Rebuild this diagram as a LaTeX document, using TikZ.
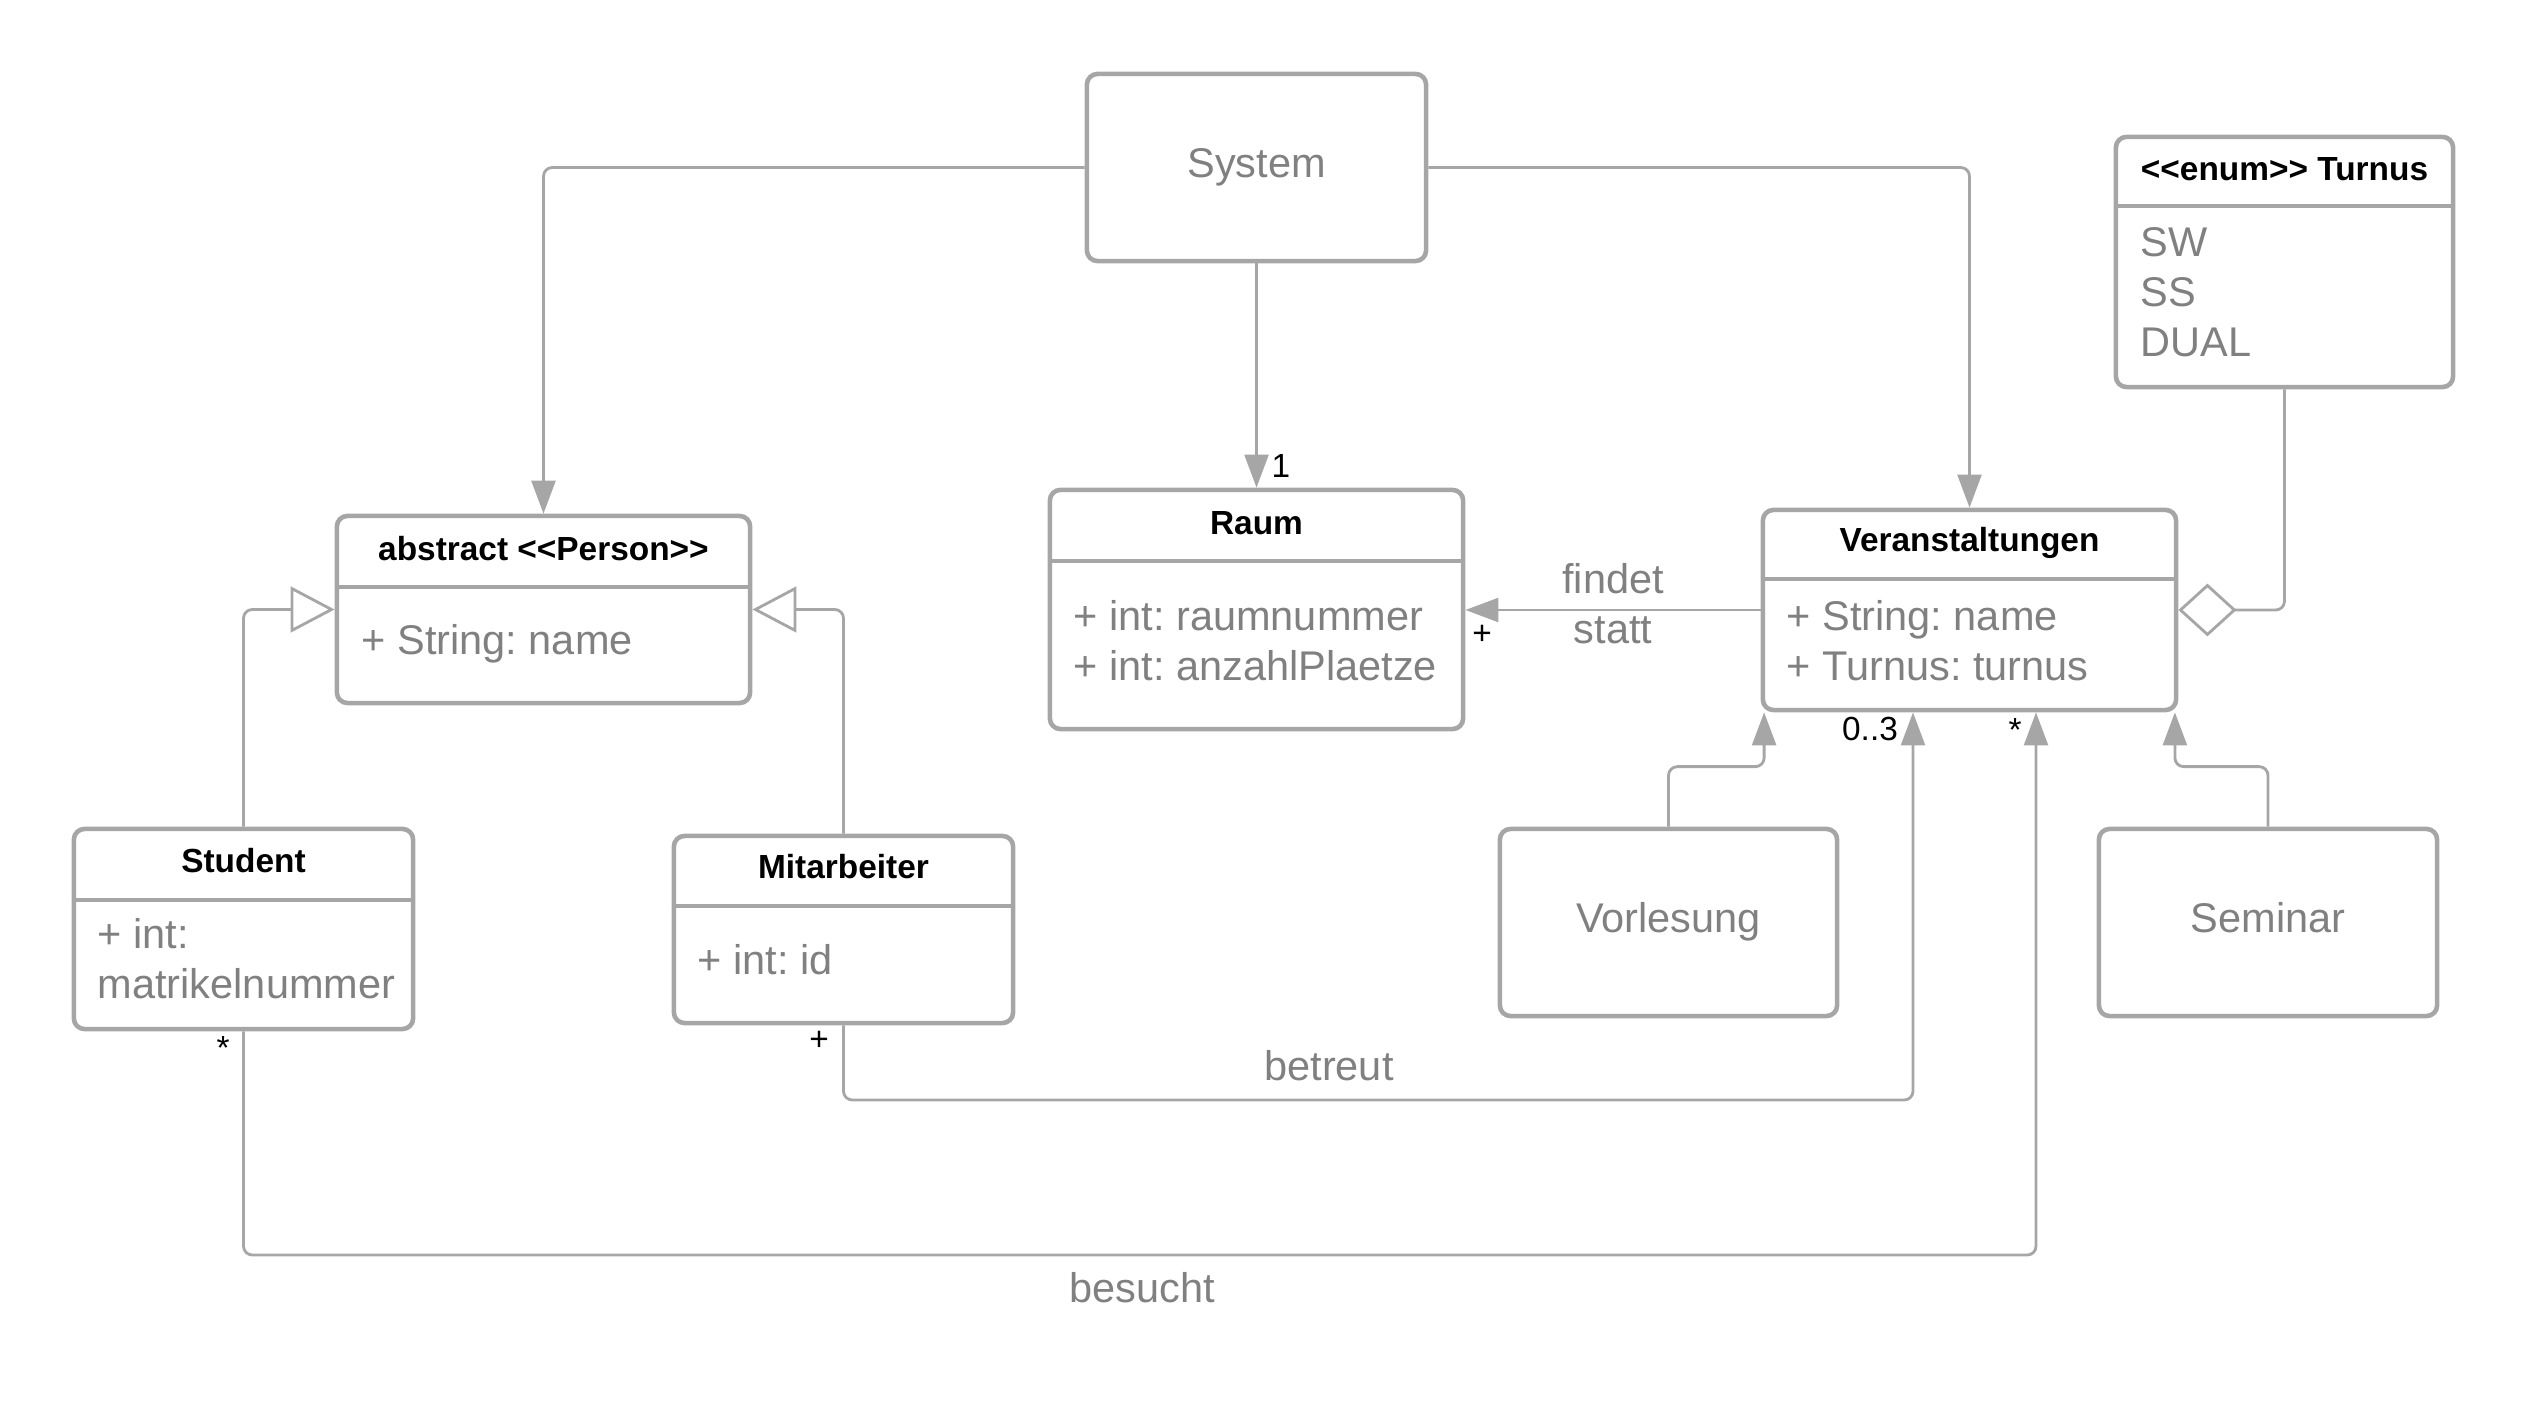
\documentclass[tikz,border=0pt]{standalone}
\usepackage{fontspec}
\setmainfont{Liberation Sans}
\usetikzlibrary{arrows.meta}
\definecolor{linegray}{RGB}{166,166,166}
\definecolor{textgray}{RGB}{128,128,128}
\newcommand\bodyfont{\fontsize{11.8}{14.2}\selectfont}
\newcommand\titlefont{\fontsize{9.5}{11.4}\selectfont}
\frenchspacing

\begin{document}
\begin{tikzpicture}[x=0.01cm, y=-0.01cm,
    classbox/.style={draw=linegray, line width=1.3pt, rounded corners=3pt, fill=white},
    simplebox/.style={classbox, text=textgray, font=\bodyfont, text depth=2.8pt},
    divider/.style={draw=linegray, line width=1.3pt},
    % text inside the class boxes
    classtitle/.style={anchor=base, inner sep=0pt, font=\titlefont\bfseries, text=black},
    attr/.style={anchor=base west, inner sep=0pt, font=\bodyfont, text=textgray},
    plain/.style={anchor=base, inner sep=0pt, font=\bodyfont, text=textgray},
    mult/.style={anchor=base, inner sep=0pt, font=\titlefont, text=black},
    % connectors
    conn/.style={draw=linegray, line width=0.8pt, rounded corners=2.5pt},
    assoc/.style={conn, -{Triangle[length=9.4pt, width=6.8pt]}},
    inherit/.style={conn, -{Triangle[open, length=12.5pt, width=13pt]}},
    aggr/.style={conn, -{Diamond[open, length=16.5pt, width=15pt]}}
    ]
\useasboundingbox (0,0) rectangle (2529,1425);

%% Plain boxes
\node[simplebox, minimum width=3.39cm, minimum height=1.87cm] (system) at (1256.5,167.5) {System};
\node[simplebox, minimum width=3.37cm, minimum height=1.87cm] (vorlesung) at (1668.5,922.5) {Vorlesung};
\node[simplebox, minimum width=3.38cm, minimum height=1.87cm] (seminar) at (2268,922.5) {Seminar};

%% abstract Person
\node[classbox, minimum width=4.13cm, minimum height=1.87cm] (person) at (543.5,609.5) {};
\draw[divider] (person.west |- 0,587) -- (person.east |- 0,587);
\node[classtitle] (persontitle) at (543.5,561) {abstract <{}<Person>{}>};
\node[attr] (personname) at (361,655) {+ String: name};

%% Raum
\node[classbox, minimum width=4.13cm, minimum height=2.39cm] (raum) at (1256.5,609.5) {};
\draw[divider] (raum.west |- 0,561) -- (raum.east |- 0,561);
\node[classtitle] (raumtitle) at (1256.5,535) {Raum};
\node[attr] (raumnr) at (1073,631) {+ int: raumnummer};
\node[attr] (raumplaetze) at (1073,681) {+ int: anzahlPlaetze};

%% Veranstaltungen
\node[classbox, minimum width=4.13cm, minimum height=2.00cm] (veranst) at (1969.5,610) {};
\draw[divider] (veranst.west |- 0,579) -- (veranst.east |- 0,579);
\node[classtitle] (veransttitle) at (1969.5,552) {Veranstaltungen};
\node[attr] (veranstname) at (1786,631) {+ String: name};
\node[attr] (veransturnus) at (1786,681) {+ Turnus: turnus};

%% Student
\node[classbox, minimum width=3.39cm, minimum height=2.00cm] (student) at (243.5,929) {};
\draw[divider] (student.west |- 0,900) -- (student.east |- 0,900);
\node[classtitle] (studenttitle) at (243.5,873) {Student};
\node[attr] (studentint) at (97,949) {+ int:};
\node[attr] (studentnr) at (97,999) {matrikelnummer};

%% Mitarbeiter
\node[classbox, minimum width=3.39cm, minimum height=1.87cm] (mitarb) at (843.5,929.5) {};
\draw[divider] (mitarb.west |- 0,906) -- (mitarb.east |- 0,906);
\node[classtitle] (mitarbtitle) at (843.5,879) {Mitarbeiter};
\node[attr] (mitarbid) at (697,975) {+ int: id};

%% enum Turnus
\node[classbox, minimum width=3.37cm, minimum height=2.50cm] (turnus) at (2284.5,262) {};
\draw[divider] (turnus.west |- 0,206) -- (turnus.east |- 0,206);
\node[classtitle] (turnustitle) at (2284.5,181) {<{}<enum>{}> Turnus};
\node[attr] (turnussw) at (2140,257) {SW};
\node[attr] (turnusss) at (2140,307) {SS};
\node[attr] (turnusdual) at (2140,357) {DUAL};

%% System associations
\draw[assoc] (system.west) -| (person.north);
\draw[assoc] (system.south) -- (raum.north);
\draw[assoc] (system.east) -| (veranst.north);
\node[mult] (raummult) at (1281,478) {1};

%% findet statt
\draw[assoc] (veranst.west) -- (veranst.west -| raum.east);
\node[plain] (findet) at (1613,594) {findet};
\node[plain] (statt) at (1613,644) {statt};
\node[mult] (raumplus) at (1482,645) {+};

%% Turnus aggregation
\draw[aggr] (turnus.south) |- (veranst.east);

%% Inheritance
\draw[inherit] (student.north) |- (person.west);
\draw[inherit] (mitarb.north) |- (person.east);
\draw[assoc] (vorlesung.north) -- ++(0,-60) -| ([xshift=1pt]veranst.south west);
\draw[assoc] (seminar.north) -- ++(0,-60) -| ([xshift=-1pt]veranst.south east);

%% betreut
\draw[assoc] (mitarb.south) |- (1913,1100) -- (1913,0 |- veranst.south);
\node[plain] (betreut) at (1329,1081) {betreut};
\node[mult] (mitarbplus) at (819,1051) {+};
\node[mult] (veranstnull) at (1870,741) {0..3};

%% besucht
\draw[assoc] (student.south) |- (2036,1255) -- (2036,0 |- veranst.south);
\node[plain] (besucht) at (1142,1302) {besucht};
\node[mult] (studentstar) at (223,1060) {*};
\node[mult] (veranststar) at (2015,742) {*};

\end{tikzpicture}
\end{document}
